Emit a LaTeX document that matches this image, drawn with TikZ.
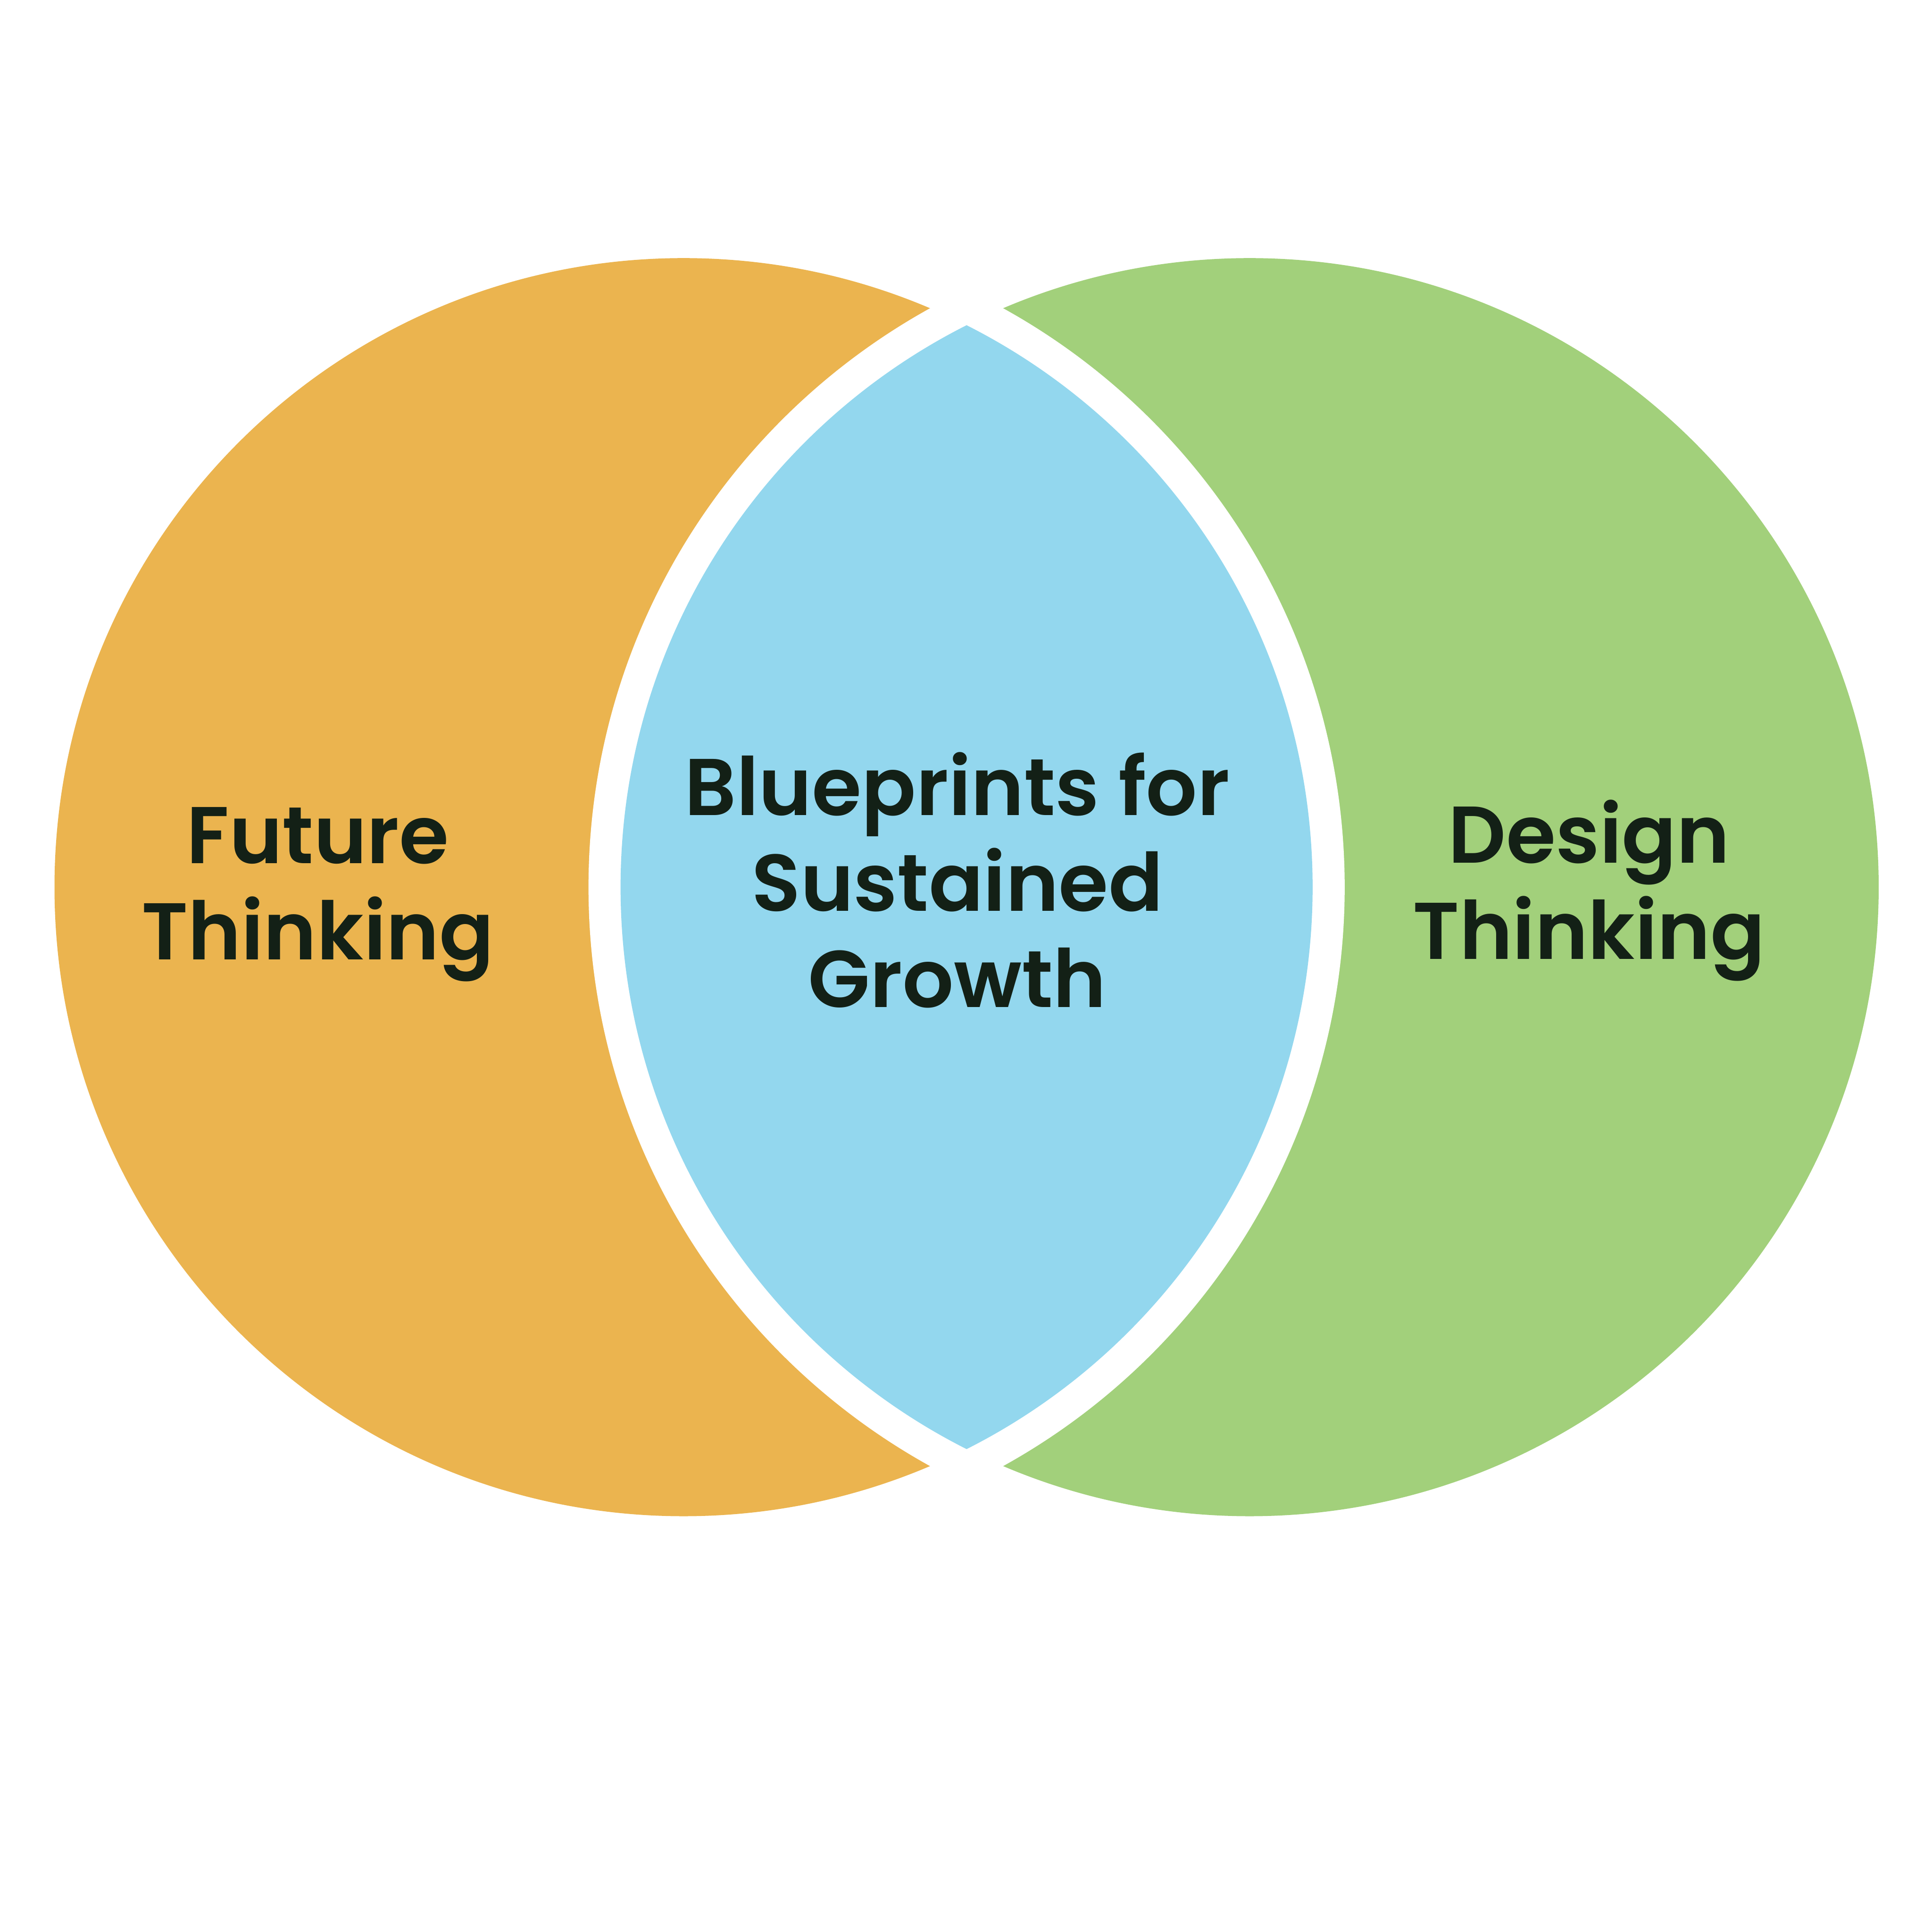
\documentclass[tikz,border=0pt]{standalone}
\usepackage{fontspec}
\setmainfont{Poppins}[BoldFont={Poppins SemiBold}]
\usepackage{tikz}

\definecolor{futureorange}{HTML}{EBB44F}
\definecolor{designgreen}{HTML}{A2D07B}
\definecolor{blueprintblue}{HTML}{93D7EE}
\definecolor{labeltext}{HTML}{132016}

\tikzset{
  label/.style={text=labeltext, align=center, font=\fontsize{23.7}{28.3}\selectfont\bfseries}
}

\begin{document}
\begin{tikzpicture}
    \useasboundingbox (0,0) rectangle (20,20);

    % Circle centres
    \coordinate (lc) at (7.076, 10.816);
    \coordinate (rc) at (12.936, 10.816);

    % Circles
    \fill[futureorange] (lc) circle (6.512);
    \fill[designgreen] (rc) circle (6.512);

    % White band round the overlap
    \begin{scope}
        \clip (lc) circle (6.844);
        \fill[white] (rc) circle (6.844);
    \end{scope}

    % Overlap
    \begin{scope}
        \clip (lc) circle (6.512);
        \fill[blueprintblue] (rc) circle (6.512);
    \end{scope}

    % Labels
    \node[label] (future) at (3.29, 10.74) {Future\\Thinking};
    \node[label] (blueprints) at (9.91, 10.89) {Blueprints for\\Sustained\\Growth};
    \node[label] (design) at (16.45, 10.78) {Design\\Thinking};
\end{tikzpicture}
\end{document}
